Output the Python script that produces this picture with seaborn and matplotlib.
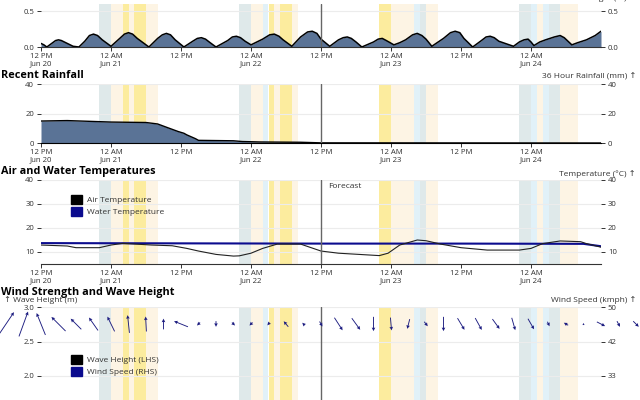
import numpy as np
import pandas as pd
import matplotlib
matplotlib.use("Agg")
import matplotlib.pyplot as plt
from matplotlib.patches import Patch
import seaborn as sns

# ---------------- data (hours since 12 PM Jun 20) ----------------
tick_hours = [0, 12, 24, 36, 48, 60, 72, 84]
tick_labels = ["12 PM\nJun 20", "12 AM\nJun 21", "12 PM", "12 AM\nJun 22",
               "12 PM", "12 AM\nJun 23", "12 PM", "12 AM\nJun 24"]
forecast_hour = 48

# top panel series (m)
top_hours = [0, 0.5, 1, 2, 2.5, 3, 3.5, 4.5, 5.5, 6.5, 7.5, 8.3, 9, 9.7, 10.5, 12,
             13.5, 14.3, 15, 15.7, 16.5, 18.5, 20, 20.8, 21.5, 22.2, 23, 24.5,
             26, 26.8, 27.5, 28.2, 29, 30, 32, 32.8, 33.5, 34.2, 35, 36,
             37, 38, 39.2, 40, 40.8, 41.5, 43, 44.5, 45.7, 46.5, 47.3, 48, 49.5,
             51, 51.8, 52.5, 53.2, 54, 55, 57, 57.8, 58.5, 59.2, 60.5,
             61.5, 62.5, 63.7, 64.5, 65.3, 66, 67, 69, 70.2, 71, 71.8, 72.5, 74,
             75.5, 76.3, 77, 77.7, 78.5, 81, 82, 82.8, 83.5, 84, 84.5,
             85.5, 86.5, 88, 89, 89.7, 91, 92, 93.5, 95, 96]
top_values = [0.05, 0.03, 0.00, 0.06, 0.09, 0.10, 0.09, 0.05, 0.01, 0.00, 0.08, 0.16, 0.18, 0.16, 0.10, 0.01,
              0.12, 0.18, 0.20, 0.18, 0.12, 0.00, 0.12, 0.17, 0.19, 0.17, 0.10, 0.00,
              0.08, 0.12, 0.13, 0.11, 0.06, 0.00, 0.09, 0.14, 0.15, 0.13, 0.08, 0.03,
              0.07, 0.11, 0.17, 0.18, 0.15, 0.10, 0.01, 0.14, 0.21, 0.22, 0.19, 0.11, 0.01,
              0.10, 0.13, 0.14, 0.12, 0.07, 0.00, 0.07, 0.11, 0.12, 0.09, 0.03,
              0.06, 0.10, 0.17, 0.19, 0.16, 0.11, 0.01, 0.12, 0.20, 0.22, 0.20, 0.12, 0.00,
              0.09, 0.14, 0.15, 0.13, 0.08, 0.01, 0.07, 0.10, 0.11, 0.07, 0.02,
              0.07, 0.10, 0.14, 0.16, 0.13, 0.03, 0.06, 0.10, 0.16, 0.22]

# 36 hour rainfall (mm)
rain_hours = [0, 4.5, 12, 18, 20, 21.5, 23.5, 24.5, 25, 26.5, 27, 33, 34.5, 37.5, 44.5, 48, 96]
rain_values = [14.9, 15.2, 14.2, 13.9, 12.9, 10.7, 7.8, 6.6, 5.5, 2.9, 1.8, 1.5, 1.0, 0.7, 0.5, 0.1, 0.0]

# temperatures (°C)
air_hours = [0, 4.5, 6, 10, 12, 14, 19, 22.5, 25, 27, 30, 33, 34, 36, 38, 40.5, 44.5, 48,
             51, 54.5, 58, 59.5, 61.5, 64.5, 66, 68.5, 72, 76.5, 82, 84, 86, 89, 92.5, 93.5, 96]
air_temp = [12.9, 12.5, 11.8, 11.8, 12.9, 13.6, 12.9, 12.6, 11.5, 10.4, 9.0, 8.3, 8.4, 9.5,
            11.5, 13.3, 13.3, 10.4, 9.5, 9.0, 8.5, 9.5, 12.9, 15.0, 14.7, 13.3, 11.8, 10.8,
            10.8, 11.5, 13.5, 14.6, 14.3, 13.5, 12.0]
water_hours = [0, 24, 48, 72, 93, 96]
water_temp = [13.7, 13.6, 13.5, 13.5, 13.4, 12.4]

# wind arrows every 3 hours
wind_hours = list(range(-6, 103, 3))
wind_bearing = [34, 20, 338, 315, 315, 325, 334, 354, 357, 0, 292, 225, 180, 135, 225, 220, 320, 315,
                150, 147, 144, 180, 175, 194, 142, 180, 149, 151, 144, 164, 150, 155, 300, 0, 117, 152, 135]
wind_speed = [40, 37, 33, 28, 21, 22, 23, 25, 21, 15, 21, 6, 8, 6, 6, 5, 10, 5,
              8, 21, 20, 20, 18, 14, 8, 20, 19, 19, 17, 18, 17, 7, 7, 3, 13, 9, 11]

# background period bands (start hour, end hour, kind)
band_start = [10, 12, 14, 15, 16, 18, 34, 36, 38, 39, 40, 41, 43, 58, 60, 64, 65, 66,
              82, 84, 85, 86, 87, 89]
band_end = [12, 14, 15, 16, 18, 20, 36, 38, 39, 40, 41, 43, 44, 60, 64, 65, 66, 68,
            84, 85, 86, 87, 89, 92]
band_kind = ["dusk", "night", "moon", "night", "moon", "night",
             "dusk", "night", "dawn", "moon", "night", "moon", "night",
             "moon", "night", "dawn", "dusk", "night",
             "dusk", "dawn", "night", "dawn", "dusk", "night"]

# ---------------- style ----------------
sns.set_theme(style="white")
plt.rcParams['font.family'] = ['Open Sans', 'DejaVu Sans']

BAND_COLORS = {"dusk": "#dfe9ea", "night": "#fdf4e4", "moon": "#fcec9e", "dawn": "#e1f1f8"}
FILL = "#5a7396"
NAVY = "#0b0b8e"
TXT = "#333333"
W, H = 640, 400
XL, XW = 41, 560

fig = plt.figure(figsize=(6.4, 4.0), dpi=100)


def make_axes(top, bottom, xlabels=True):
    ax = fig.add_axes([XL / W, (H - bottom) / H, XW / W, (bottom - top) / H])
    ax.set_xlim(0, 96)
    for s in ("top", "left", "right"):
        ax.spines[s].set_visible(False)
    ax.spines["bottom"].set_color(TXT)
    ax.spines["bottom"].set_linewidth(0.8)
    ax.set_xticks(tick_hours)
    ax.set_xticklabels(tick_labels)
    ax.tick_params(axis="x", direction="out", length=3, width=0.7, color=TXT,
                   labelsize=5.6, labelcolor=TXT, pad=1.5, bottom=xlabels,
                   labelbottom=xlabels)
    ax.tick_params(axis="y", direction="out", length=3, width=0.7, color=TXT,
                   labelsize=5.6, labelcolor=TXT, pad=2, left=True, right=True,
                   labelleft=True, labelright=True)
    for lab in ax.get_xticklabels():
        lab.set_linespacing(0.95)
    ax.yaxis.grid(True, color="#ececec", lw=0.8)
    ax.set_axisbelow(True)
    for s, e, k in zip(band_start, band_end, band_kind):
        ax.axvspan(s, e, color=BAND_COLORS[k], lw=0, zorder=0.5)
    ax.axvline(forecast_hour, color="#666666", lw=1.0, zorder=4)
    ax.set_xlabel("")
    ax.set_ylabel("")
    return ax


def title(y, text):
    fig.text(1 / W, 1 - y / H, text, fontsize=7.8, fontweight="bold", va="center",
             ha="left", color="black")


def rlabel(y, text):
    fig.text(636 / W, 1 - y / H, text, fontsize=6, va="center", ha="right", color=TXT)


# ---- panel 1 ----
ax1 = make_axes(4, 47)
ax1.set_ylim(0, 0.6)
ax1.set_yticks([0.0, 0.5])
ax1.set_yticklabels(["0.0", "0.5"])
ax1.fill_between(top_hours, top_values, 0, color=FILL, lw=0, zorder=2)
sns.lineplot(x=top_hours, y=top_values, ax=ax1, color="black", lw=1.1, zorder=3,
             sort=False, legend=False)
ax1.set_xlabel(""); ax1.set_ylabel("")
rlabel(-2, "Tide Height (m) \u2191")

# ---- panel 2 ----
title(76, "Recent Rainfall")
rlabel(77, "36 Hour Rainfall (mm) \u2191")
ax2 = make_axes(84, 143)
ax2.set_ylim(0, 40)
ax2.set_yticks([0, 20, 40])
ax2.fill_between(rain_hours, rain_values, 0, color=FILL, lw=0, zorder=2)
sns.lineplot(x=rain_hours, y=rain_values, ax=ax2, color="black", lw=1.0, zorder=3,
             sort=False, legend=False)
ax2.spines["bottom"].set_color("black")
ax2.set_xlabel(""); ax2.set_ylabel("")

# ---- panel 3 ----
title(172, "Air and Water Temperatures")
rlabel(174, "Temperature (\u00b0C) \u2191")
ax3 = make_axes(180, 264)
ax3.set_ylim(5, 40)
ax3.set_yticks([10, 20, 30, 40])
sns.lineplot(x=water_hours, y=water_temp, ax=ax3, color=NAVY, lw=1.5, zorder=3,
             sort=False, legend=False)
sns.lineplot(x=air_hours, y=air_temp, ax=ax3, color="#222222", lw=0.8, zorder=3.5,
             sort=False, legend=False)
ax3.set_xlabel(""); ax3.set_ylabel("")
ax3.text(forecast_hour + 1.3, 37.2, "Forecast", fontsize=6, color=TXT, va="center", ha="left")
leg3 = ax3.legend(handles=[Patch(color="black", label="Air Temperature"),
                           Patch(color=NAVY, label="Water Temperature")],
                  loc="upper left", bbox_to_anchor=(71 / W, 1 - 195 / H),
                  bbox_transform=fig.transFigure, frameon=False, fontsize=6,
                  handlelength=1.35, handleheight=1.35, handletextpad=0.55,
                  labelspacing=0.25, borderpad=0, borderaxespad=0)
for t in leg3.get_texts():
    t.set_color(TXT)

# ---- panel 4 ----
title(292, "Wind Strength and Wave Height")
rlabel(300, "Wind Speed (kmph) \u2191")
fig.text(4 / W, 1 - 300 / H, "\u2191 Wave Height (m)", fontsize=6, va="center",
         ha="left", color=TXT)
ax4 = make_axes(307, 400, xlabels=False)
ax4.spines["bottom"].set_visible(False)
top_m = 3.0
ax4.set_ylim(top_m - 93 / 69, top_m)
ax4.set_yticks([2.0, 2.5, 3.0])
ax4.set_yticklabels(["2.0", "2.5", "3.0"])
ax4.tick_params(axis="y", labelright=False, right=False)
ax4r = ax4.twinx()
ax4r.set_ylim(33 - 24 * 17 / 69, 50)
ax4r.set_yticks([33, 41.5, 50])
ax4r.set_yticklabels(["33", "42", "50"])
for s in ("top", "left", "right", "bottom"):
    ax4r.spines[s].set_visible(False)
ax4r.tick_params(axis="y", direction="out", length=3, width=0.7, color=TXT,
                 labelsize=5.6, labelcolor=TXT, pad=2)
ax4r.grid(False)

b = np.deg2rad(wind_bearing)
spd = np.array(wind_speed, dtype=float)
u = spd * np.sin(b)
v = spd * np.cos(b)
arrow_y = np.full(len(wind_hours), top_m - 17 / 69)
q = ax4.quiver(wind_hours, arrow_y, u, v, angles="uv", scale_units="dots", scale=1.4,
               units="dots", width=0.9, headwidth=4, headlength=4, headaxislength=3.6,
               pivot="mid", color="#1c1c80", zorder=5)
q.set_clip_on(False)

leg4 = ax4.legend(handles=[Patch(color="black", label="Wave Height (LHS)"),
                           Patch(color=NAVY, label="Wind Speed (RHS)")],
                  loc="upper left", bbox_to_anchor=(71 / W, 1 - 355 / H),
                  bbox_transform=fig.transFigure, frameon=False, fontsize=6,
                  handlelength=1.35, handleheight=1.35, handletextpad=0.55,
                  labelspacing=0.25, borderpad=0, borderaxespad=0)
for t in leg4.get_texts():
    t.set_color(TXT)

fig.savefig("out.png", dpi=100)
